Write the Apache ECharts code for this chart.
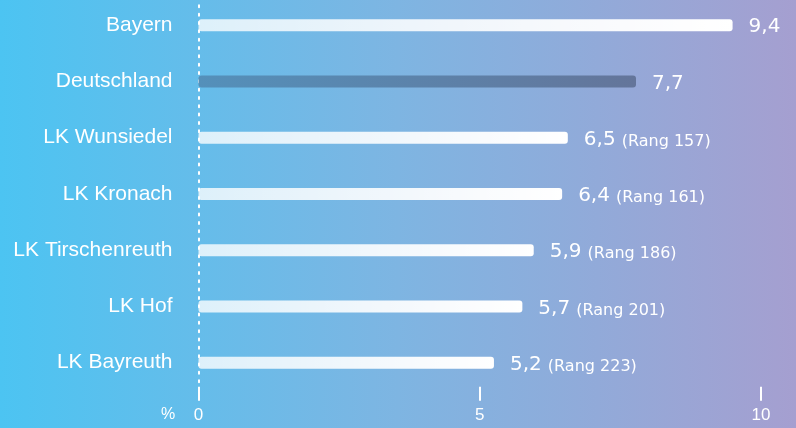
<!DOCTYPE html>
<html><head><meta charset="utf-8">
<script src="https://cdn.jsdelivr.net/npm/echarts@6/dist/echarts.min.js"></script>
<style>html,body{margin:0;padding:0;}#c{width:796px;height:428px;}</style>
</head><body><div id="c"></div>
<script>
const categories = ['Bayern','Deutschland','LK Wunsiedel','LK Kronach','LK Tirschenreuth','LK Hof','LK Bayreuth'];
const values = [9.4, 7.7, 6.5, 6.4, 5.9, 5.7, 5.2];
const ranks = [null, null, 157, 161, 186, 201, 223];
const highlight = 'Deutschland';
const xTicks = [0, 5, 10];
const unitLabel = '%';

const FONT = '"Liberation Sans", Arial, sans-serif';
const WIDE = '"DejaVu Sans", sans-serif';
const whiteBar = {type:'linear',x:0,y:0,x2:1,y2:0,colorStops:[{offset:0,color:'rgba(255,255,255,0.78)'},{offset:1,color:'#ffffff'}]};
const darkBar = {type:'linear',x:0,y:0,x2:1,y2:0,colorStops:[{offset:0,color:'rgb(84,144,186)'},{offset:1,color:'rgb(100,117,154)'}]};

const data = values.map((v,i)=>({
  value: v,
  itemStyle: {color: categories[i]===highlight ? darkBar : whiteBar}
}));

const chart = echarts.init(document.getElementById('c'), null, {renderer:'canvas'});
chart.setOption({
  animation:false,
  backgroundColor:{type:'linear',x:0,y:0,x2:1,y2:0,colorStops:[
    {offset:0,color:'#4cc4f2'},{offset:0.5,color:'#7eb5e2'},{offset:1,color:'#a59fd0'}]},
  grid:{left:198.5,right:35,top:-3,bottom:37.25,containLabel:false,outerBoundsMode:'none'},
  xAxis:[{
    type:'value',min:0,max:10,interval:5,offset:-4,
    axisLine:{show:false},
    axisTick:{show:true,length:14,lineStyle:{color:'#fff',width:2}},
    splitLine:{show:false},
    axisLabel:{color:'#fff',fontSize:17,fontFamily:FONT,margin:20,
      formatter:v=>xTicks.includes(v)?String(v):''}
  },{
    type:'value',min:0,max:9.9,show:false,splitLine:{show:false}
  }],
  yAxis:{
    type:'category',data:categories,inverse:true,
    axisLine:{show:true,lineStyle:{color:'#fff',width:2,type:[2,6.33]}},
    axisTick:{show:false},
    axisLabel:{color:'#fff',fontSize:21,fontFamily:FONT,margin:26}
  },
  series:[{
    type:'bar',data:data,barWidth:12,xAxisIndex:1,
    itemStyle:{borderRadius:3},
    label:{show:true,position:'right',distance:16,color:'#fff',fontFamily:WIDE,
      formatter:p=>{
        const v = String(p.value).replace('.',',');
        const r = ranks[p.dataIndex];
        return r ? '{v|'+v+'}{r| (Rang '+r+')}' : '{v|'+v+'}';
      },
      rich:{
        v:{fontSize:20,color:'#fff',fontFamily:WIDE,verticalAlign:'bottom',lineHeight:24},
        r:{fontSize:16,color:'#fff',fontFamily:WIDE,verticalAlign:'bottom',lineHeight:22,padding:[0,0,0,1]}
      }
    }
  }],
  graphic:[{type:'text',left:161,top:407,style:{text:unitLabel,fill:'#fff',font:'16px '+FONT}}]
});
</script></body></html>
